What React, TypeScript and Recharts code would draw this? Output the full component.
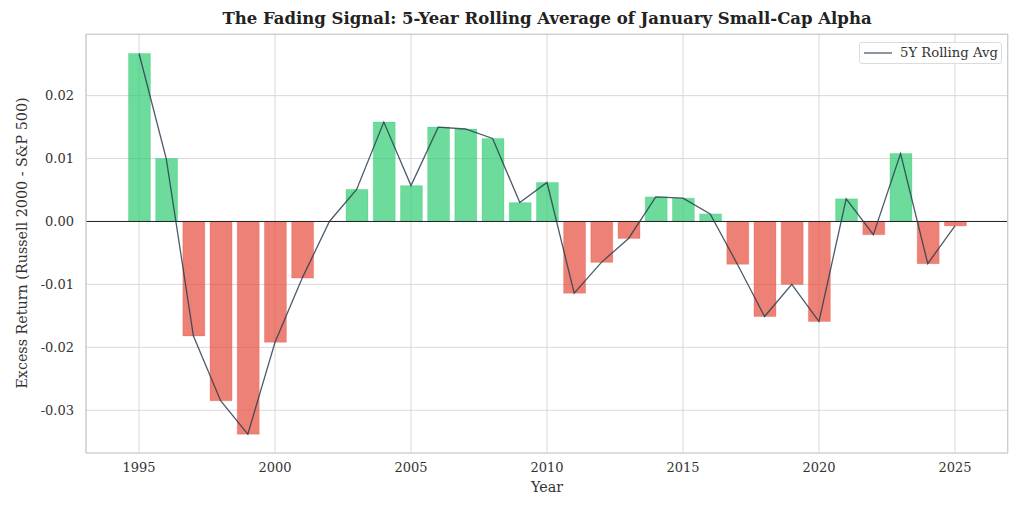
import React from 'react';
import {
  ComposedChart,
  Bar,
  Line,
  Cell,
  XAxis,
  YAxis,
  CartesianGrid,
  ReferenceLine,
  Legend,
} from 'recharts';

// values
const years = [
  1995, 1996, 1997, 1998, 1999, 2000, 2001, 2002, 2003, 2004,
  2005, 2006, 2007, 2008, 2009, 2010, 2011, 2012, 2013, 2014,
  2015, 2016, 2017, 2018, 2019, 2020, 2021, 2022, 2023, 2024, 2025,
];
const rollingAvg = [
  0.0267, 0.0100, -0.0182, -0.0285, -0.0338, -0.0192, -0.0090, 0.0, 0.0051, 0.0158,
  0.0057, 0.0150, 0.0147, 0.0132, 0.0030, 0.0062, -0.0114, -0.0065, -0.0027, 0.0039,
  0.0037, 0.0012, -0.0068, -0.0151, -0.0100, -0.0159, 0.0036, -0.0021, 0.0108, -0.0067,
  -0.0007,
];
const xTicks = [1995, 2000, 2005, 2010, 2015, 2020, 2025];
const yTicks = [-0.03, -0.02, -0.01, 0.0, 0.01, 0.02];

const data = years.map((year, i) => ({ year, value: rollingAvg[i] }));

const FONT = '"DejaVu Serif", serif';
const GREEN = '#2ecc71';
const RED = '#e74c3c';
const LINE = '#2c3e50';

const LegendBox = () => (
  <div
    style={{
      position: 'absolute',
      left: 859,
      top: 42,
      width: 143,
      height: 22,
      border: '1px solid #dcdcdc',
      borderRadius: 3,
      background: 'rgba(255,255,255,0.8)',
      boxSizing: 'border-box',
      fontFamily: FONT,
      fontSize: 13.2,
      color: '#333',
    }}
  >
    <svg width={30} height={20} style={{ position: 'absolute', left: 4, top: 0 }}>
      <line x1={0} y1={10} x2={28} y2={10} stroke={LINE} strokeOpacity={0.85} strokeWidth={1.3} />
    </svg>
    <span style={{ position: 'absolute', left: 40, top: 2, whiteSpace: 'nowrap' }}>5Y Rolling Avg</span>
  </div>
);

export default function App() {
  return (
    <div
      style={{
        position: 'absolute',
        left: 0,
        top: 0,
        width: 1024,
        height: 512,
        background: '#fff',
        fontFamily: FONT,
      }}
    >
      <div
        style={{
          position: 'absolute',
          left: 86,
          width: 922,
          top: 9,
          textAlign: 'center',
          fontWeight: 'bold',
          fontSize: 16.5,
          color: '#222',
          whiteSpace: 'nowrap',
        }}
      >
        The Fading Signal: 5-Year Rolling Average of January Small-Cap Alpha
      </div>

      <ComposedChart
        width={1024}
        height={512}
        data={data}
        margin={{ top: 34, right: 16, bottom: 19, left: 0 }}
      >
        <CartesianGrid stroke="#d9d9d9" strokeWidth={1} />
        <XAxis
          dataKey="year"
          type="number"
          domain={[1993.05, 2026.95]}
          ticks={xTicks}
          allowDataOverflow
          height={40}
          tickLine={false}
          axisLine={{ stroke: '#cccccc', strokeWidth: 1.2 }}
          tickMargin={4}
          tick={{ fill: '#333', fontSize: 13, fontFamily: FONT }}
        />
        <YAxis
          type="number"
          domain={[-0.0368, 0.0298]}
          ticks={yTicks}
          allowDataOverflow
          width={86}
          tickLine={false}
          axisLine={{ stroke: '#cccccc', strokeWidth: 1.2 }}
          tickMargin={6}
          tickFormatter={(v: number) => v.toFixed(2)}
          tick={{ fill: '#333', fontSize: 13, fontFamily: FONT }}
        />
        <Legend content={() => null} />
        <Bar dataKey="value" barSize={22} isAnimationActive={false} legendType="none">
          {data.map((d) => (
            <Cell
              key={d.year}
              fill={d.value >= 0 ? GREEN : RED}
              fillOpacity={0.7}
              stroke={d.value >= 0 ? GREEN : RED}
              strokeOpacity={0.25}
            />
          ))}
        </Bar>
        <ReferenceLine y={0} stroke="#222" strokeWidth={1} />
        <Line
          dataKey="value"
          type="linear"
          stroke={LINE}
          strokeOpacity={0.85}
          strokeWidth={1.3}
          dot={false}
          activeDot={false}
          isAnimationActive={false}
          name="5Y Rolling Avg"
        />
      </ComposedChart>

      {/* plot frame: top and right spines */}
      <div
        style={{
          position: 'absolute',
          left: 86,
          top: 34,
          width: 922,
          height: 419,
          borderTop: '1.2px solid #cccccc',
          borderRight: '1.2px solid #cccccc',
          boxSizing: 'border-box',
          pointerEvents: 'none',
        }}
      />

      <LegendBox />

      <div
        style={{
          position: 'absolute',
          left: 22,
          top: 243,
          transform: 'translate(-50%, -50%) rotate(-90deg)',
          fontSize: 14.3,
          color: '#333',
          whiteSpace: 'nowrap',
        }}
      >
        Excess Return (Russell 2000 - S&amp;P 500)
      </div>
      <div
        style={{
          position: 'absolute',
          left: 86,
          width: 922,
          top: 479,
          textAlign: 'center',
          fontSize: 14.3,
          color: '#333',
        }}
      >
        Year
      </div>
    </div>
  );
}
